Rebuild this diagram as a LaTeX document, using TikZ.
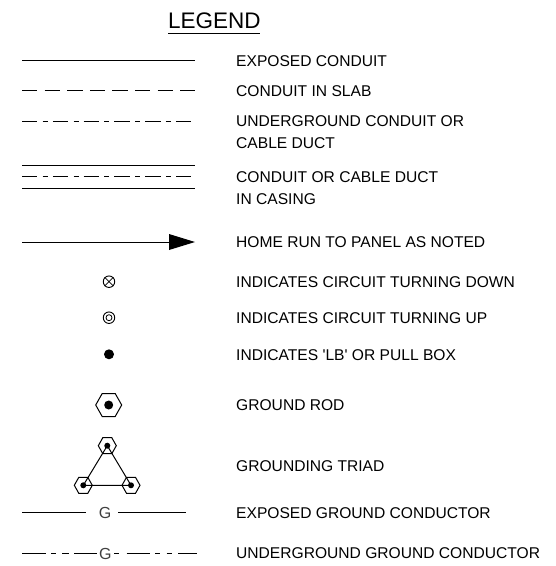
\documentclass[tikz,border=0pt]{standalone}
\usepackage{fontspec}
\setmainfont{Liberation Sans}
\newfontfamily\plainsans{Liberation Sans}
\usetikzlibrary{arrows.meta,calc}
\tikzset{
 lbl/.style={anchor=base west,inner sep=0pt,font=\plainsans\fontsize{15.6}{15.6}\selectfont},
 glab/.style={inner sep=0pt,text=black!75,font=\fontsize{16}{16}\selectfont},
 ln/.style={line width=1pt,black},
 slabdash/.style={ln,dash pattern=on 15.4pt off 7.2pt},
 ugdash/.style={ln,dash pattern=on 15.3pt off 5.4pt on 5pt off 5.1pt},
 hexa/.style={line width=1pt,black,fill=white},
 blackdot/.style={circle,fill=black,inner sep=0pt},
 sym/.style={circle,draw=black,line width=.9pt,inner sep=0pt,minimum size=11.5pt},
}
\newcommand{\hexpath}[3]{\draw[hexa] ($(#1)+(#2,0)$) -- ($(#1)+(#2*.5,#3)$) -- ($(#1)+(-#2*.5,#3)$) -- ($(#1)+(-#2,0)$) -- ($(#1)+(-#2*.5,-#3)$) -- ($(#1)+(#2*.5,-#3)$) -- cycle;}
\begin{document}
\begin{tikzpicture}[x=1pt,y=-1pt]
\useasboundingbox (0,0) rectangle (556,566);
\fill[white] (0,0) rectangle (556,566);
% title
\node[anchor=base west,inner sep=0pt,font=\fontsize{22.5}{22.5}\selectfont] (title) at (168,28) {LEGEND};
\coordinate (ua) at (168,33); \coordinate (ub) at (260,33);
\draw[ln] (ua) -- (ub);
% labels
\node[lbl] (t1) at (236,66.3) {EXPOSED CONDUIT};
\node[lbl] (t2) at (236,96.3) {CONDUIT IN SLAB};
\node[lbl] (t3) at (236,126.3) {UNDERGROUND CONDUIT OR};
\node[lbl] (t3b) at (236,148.3) {CABLE DUCT};
\node[lbl] (t4) at (236,182.3) {CONDUIT OR CABLE DUCT};
\node[lbl] (t4b) at (236,204.3) {IN CASING};
\node[lbl] (t5) at (236,247.3) {HOME RUN TO PANEL AS NOTED};
\node[lbl] (t6) at (236,287.3) {INDICATES CIRCUIT TURNING DOWN};
\node[lbl] (t7) at (236,323.3) {INDICATES CIRCUIT TURNING UP};
\node[lbl] (t8) at (236,360.3) {INDICATES 'LB' OR PULL BOX};
\node[lbl] (t9) at (236,410.3) {GROUND ROD};
\node[lbl] (t10) at (236,471.3) {GROUNDING TRIAD};
\node[lbl] (t11) at (236,518.3) {EXPOSED GROUND CONDUCTOR};
\node[lbl] (t12) at (236,558.3) {UNDERGROUND GROUND CONDUCTOR};
% conduit lines
\coordinate (a1) at (22,60.5); \coordinate (b1) at (195,60.5);
\draw[ln] (a1) -- (b1);
\coordinate (a2) at (22,90.7); \coordinate (b2) at (195,90.7);
\draw[slabdash] (a2) -- (b2);
\coordinate (a3) at (22,121); \coordinate (b3) at (192,121);
\draw[ugdash] (a3) -- (b3);
\coordinate (a4) at (22,165); \coordinate (b4) at (195,165);
\coordinate (a5) at (22,176.7); \coordinate (b5) at (192,176.7);
\coordinate (a6) at (22,188.3); \coordinate (b6) at (195,188.3);
\draw[ln] (a4) -- (b4);
\draw[ugdash] (a5) -- (b5);
\draw[ln] (a6) -- (b6);
% home run
\coordinate (a7) at (22,242); \coordinate (b7) at (195,242);
\draw[ln] (a7) -- (170,242);
\fill[black] (b7) -- (169,234) -- (169,250) -- cycle;
% circuit symbols
\node[sym] (down) at (109,281.7) {};
\draw[line width=.7pt] (down.north west) -- (down.south east) (down.north east) -- (down.south west);
\node[sym] (up) at (109,317.7) {};
\node[circle,draw=black,line width=.8pt,inner sep=0pt,minimum size=6pt] (upin) at (up) {};
\node[blackdot,minimum size=10pt] (lb) at (109,354.3) {};
% ground rod
\coordinate (rod) at (108.7,405);
\hexpath{rod}{13}{11.5}
\node[blackdot,minimum size=9pt] (roddot) at (rod) {};
% triad
\coordinate (tt) at (107.3,445.7);
\coordinate (tl) at (83.3,485.3);
\coordinate (tr) at (131,485.3);
\hexpath{tt}{9}{8}
\hexpath{tl}{9}{8}
\hexpath{tr}{9}{8}
\draw[ln] (tt) -- (tl) -- (tr) -- cycle;
\node[blackdot,minimum size=6pt] at (tt) {};
\node[blackdot,minimum size=6pt] at (tl) {};
\node[blackdot,minimum size=6pt] at (tr) {};
% G lines
\node[glab] (g1) at (105,513) {G};
\coordinate (c1) at (22.3,512.3); \coordinate (c2) at (118.3,512.3); \coordinate (c3) at (185.7,512.3);
\draw[ln] (c1) -- (86,512.3);
\draw[ln] (c2) -- (c3);
\node[glab] (g2) at (105.3,554) {G};
\coordinate (d1) at (22.3,553.3); \coordinate (d2) at (197,553.3);
\draw[ln] (d1) -- (45.7,553.3);
\draw[ln] (51,553.3) -- (55.7,553.3);
\draw[ln] (62.3,553.3) -- (69,553.3);
\draw[ln] (74,553.3) -- (97.3,553.3);
\draw[ln] (114.3,553.3) -- (119.3,553.3);
\draw[ln] (126.7,553.3) -- (150,553.3);
\draw[ln] (155,553.3) -- (160,553.3);
\draw[ln] (166.7,553.3) -- (171.7,553.3);
\draw[ln] (178.3,553.3) -- (d2);
\end{tikzpicture}
\end{document}
